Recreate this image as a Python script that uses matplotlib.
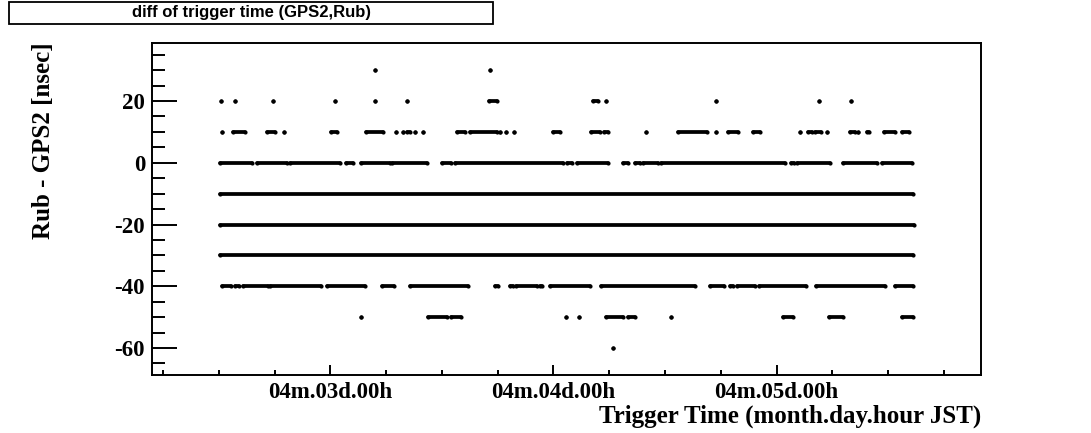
import matplotlib
matplotlib.use("Agg")
import matplotlib.pyplot as plt
from matplotlib.patches import Rectangle
from matplotlib.ticker import MultipleLocator, FuncFormatter

plt.rcParams["axes.unicode_minus"] = False

# time axis: hours since 04m.03d.00h JST
# each level holds (start, end) runs of trigger times; start == end is a single trigger
runs_p30 = [(4.8, 4.8), (17.2, 17.2)]
runs_p20 = [(-11.8, -11.8), (-10.3, -10.3), (-6.2, -6.2), (0.5, 0.5), (4.8, 4.8),
            (8.2, 8.2), (17.1, 17.9), (28.3, 28.8), (29.6, 29.6), (41.5, 41.5),
            (52.6, 52.6), (56.0, 56.0)]
runs_p10 = [(-11.7, -11.7), (-10.5, -9.2), (-6.8, -6.0), (-5.0, -5.0), (0.1, 0.7),
            (3.8, 5.7), (7.1, 7.1), (7.8, 7.8), (8.2, 8.6), (9.1, 9.1), (10.0, 10.0),
            (13.6, 14.5), (15.0, 17.9), (18.2, 18.2), (18.9, 18.9), (19.8, 19.8),
            (24.0, 24.7), (28.0, 29.0), (29.4, 29.9), (34.0, 34.0), (37.4, 40.5),
            (41.5, 41.5), (42.8, 43.9), (45.5, 46.2), (50.5, 50.5), (51.4, 51.8),
            (52.1, 52.8), (53.4, 53.4), (55.9, 56.4), (56.8, 56.8), (57.7, 58.0),
            (59.6, 60.7), (61.5, 62.2)]
runs_0 = [(-11.9, -8.4), (-7.9, -4.7), (-4.3, 1.0), (1.7, 2.4), (3.3, 6.4), (6.6, 10.4),
          (12.0, 13.0), (13.4, 25.0), (25.5, 26.0), (26.5, 29.9), (31.5, 32.0),
          (32.8, 33.3), (33.6, 35.2), (35.6, 48.9), (49.6, 49.9), (50.2, 53.8),
          (55.2, 58.8), (59.4, 62.6)]
runs_m10 = [(-11.9, 62.7)]
runs_m20 = [(-11.9, 62.8)]
runs_m30 = [(-11.9, 62.7)]
runs_m40 = [(-11.7, -10.7), (-10.3, -9.8), (-9.4, -6.7), (-6.5, -1.0), (-0.4, 3.7),
            (5.6, 6.8), (8.6, 14.8), (17.7, 18.0), (19.3, 19.6), (20.0, 22.2),
            (22.5, 22.8), (23.6, 27.9), (29.1, 39.2), (40.8, 42.4), (43.0, 43.3),
            (43.8, 45.7), (46.1, 51.2), (52.2, 59.7), (60.7, 62.7)]
runs_m50 = [(3.3, 3.3), (10.5, 12.5), (13.0, 14.1), (25.4, 25.4), (26.8, 26.8),
            (29.7, 31.5), (32.0, 32.8), (36.6, 36.6), (48.7, 49.8), (53.6, 55.2),
            (61.5, 62.7)]
runs_m60 = [(30.4, 30.4)]

levels = [30, 20, 10, 0, -10, -20, -30, -40, -50, -60]
all_runs = [runs_p30, runs_p20, runs_p10, runs_0, runs_m10, runs_m20, runs_m30,
            runs_m40, runs_m50, runs_m60]

serif = "Liberation Serif"

fig = plt.figure(figsize=(10.91, 4.33), dpi=100)
ax = fig.add_axes([0.1393, 0.1328, 0.7603, 0.7679])

for lev, runs in zip(levels, all_runs):
    starts = [r[0] for r in runs]
    ends = [r[1] for r in runs]
    ax.hlines([lev] * len(runs), starts, ends, colors="black", lw=2.7,
              capstyle="round")
    ax.plot(starts + ends, [lev] * (2 * len(runs)), "o", color="black",
            markersize=3.0, markeredgewidth=0)

ax.set_xlim(-19.2, 70.05)
ax.set_ylim(-68.9, 38.8)

ax.xaxis.set_major_locator(MultipleLocator(24))
ax.xaxis.set_minor_locator(MultipleLocator(6))
ax.xaxis.set_major_formatter(FuncFormatter(
    lambda h, pos: f"04m.{3 + int(h // 24):02d}d.{int(h % 24):02d}h"))
ax.yaxis.set_major_locator(MultipleLocator(20))
ax.yaxis.set_minor_locator(MultipleLocator(5))

ax.tick_params(axis="both", which="both", direction="in", width=1.4,
               top=False, right=False)
ax.tick_params(axis="x", which="major", length=7.5, pad=5)
ax.tick_params(axis="x", which="minor", length=3.8)
ax.tick_params(axis="y", which="major", length=18, pad=5)
ax.tick_params(axis="y", which="minor", length=9.2)
for lab in ax.get_xticklabels() + ax.get_yticklabels():
    lab.set_fontfamily(serif)
    lab.set_fontweight("bold")
    lab.set_fontsize(16.5)
for sp in ax.spines.values():
    sp.set_linewidth(1.4)

fig.text(0.8996, 0.039, "Trigger Time (month.day.hour JST)", ha="right",
         va="center", fontfamily=serif, fontweight="bold", fontsize=18)
fig.text(0.040, 0.9030, "Rub - GPS2 [nsec]", rotation=90, ha="center",
         va="top", fontfamily=serif, fontweight="bold", fontsize=18)

# title box
fig.patches.append(Rectangle((9 / 1091, 1 - 24 / 433), 484 / 1091, 21.5 / 433,
                             transform=fig.transFigure, facecolor="white",
                             edgecolor="black", linewidth=1.3))
fig.text(252 / 1091, 1 - 13 / 433, "diff of trigger time (GPS2,Rub)",
         ha="center", va="center", fontfamily="Liberation Sans",
         fontweight="bold", fontsize=12)

fig.savefig("out.png", dpi=100)
